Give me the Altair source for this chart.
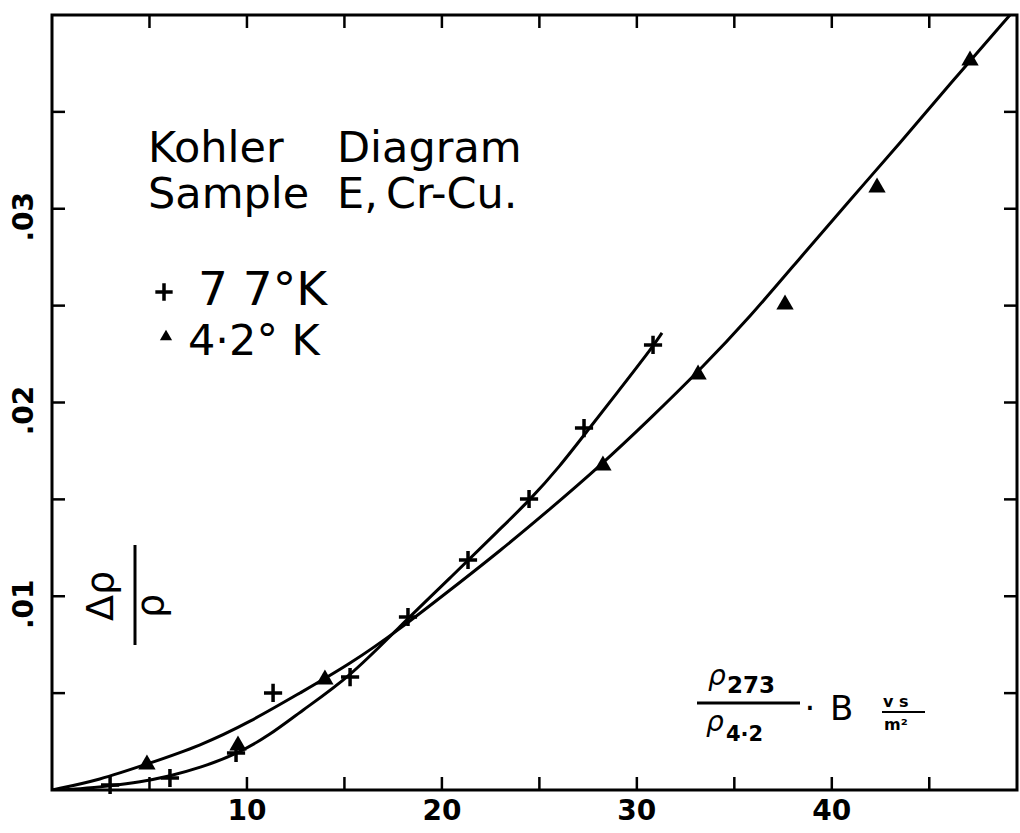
import altair as alt
import pandas as pd

# ---------------- data ----------------
# measured points, 77 K (plus markers)
x_77_pts = [2.98, 6.05, 9.44, 11.34, 15.29, 18.26, 21.34, 24.47, 27.29, 30.83]
y_77_pts = [0.00026, 0.00062, 0.00191, 0.00501, 0.00583, 0.00893, 0.01187, 0.01502, 0.01868, 0.02297]
# measured points, 4.2 K (triangles)
x_42_pts = [4.87, 9.54, 14.00, 28.26, 33.14, 37.60, 42.32, 47.09]
y_42_pts = [0.00145, 0.00243, 0.00583, 0.01688, 0.02157, 0.02519, 0.03123, 0.03778]
# hand-drawn curve, 77 K
x_77_curve = [0, 1.44, 2.98, 4.51, 6.05, 7.59, 9.49, 11.18, 12.72, 15.28, 17.85, 20.42, 22.98, 24.52, 26.06, 27.34, 29.14, 30.88, 31.29]
y_77_curve = [0, 0.00005, 0.00021, 0.00041, 0.00072, 0.00114, 0.00186, 0.00284, 0.00403, 0.00583, 0.00846, 0.01094, 0.01347, 0.01497, 0.01672, 0.01838, 0.02070, 0.02297, 0.02359]
# hand-drawn curve, 4.2 K
x_42_curve = [0, 2.46, 4.87, 7.59, 10.16, 12.72, 15.29, 17.85, 20.42, 22.98, 25.55, 28.11, 30.67, 33.24, 35.80, 38.37, 40.93, 43.50, 46.06, 49.14]
y_42_curve = [0, 0.00052, 0.00134, 0.00227, 0.00351, 0.00501, 0.00650, 0.00831, 0.01032, 0.01234, 0.01450, 0.01672, 0.01915, 0.02168, 0.02441, 0.02746, 0.03045, 0.03339, 0.03644, 0.04000]

x_tick_values = [5, 10, 15, 20, 25, 30, 35, 40, 45]
x_label_values = [10, 20, 30, 40]
x_label_texts = ["10", "20", "30", "40"]
y_tick_values = [0.005, 0.010, 0.015, 0.020, 0.025, 0.030, 0.035]
y_label_values = [0.01, 0.02, 0.03]
y_label_texts = [".01", ".02", ".03"]

X_MAX = 49.5
Y_MAX = 0.04
W, H = 965, 775
FONT = "DejaVu Sans"

xs = alt.Scale(domain=[0, X_MAX], nice=False, zero=False)
ys = alt.Scale(domain=[0, Y_MAX], nice=False, zero=False)

def X(field="x"):
    return alt.X(f"{field}:Q", scale=xs, axis=None)

def Y(field="y"):
    return alt.Y(f"{field}:Q", scale=ys, axis=None)

one = pd.DataFrame({"t": [""]})

# ---------------- curves ----------------
c77 = alt.Chart(pd.DataFrame({"x": x_77_curve, "y": y_77_curve})).mark_line(
    color="black", strokeWidth=3, interpolate="basis", clip=True
).encode(x=X(), y=Y())

c42 = alt.Chart(pd.DataFrame({"x": x_42_curve, "y": y_42_curve})).mark_line(
    color="black", strokeWidth=3, interpolate="basis", clip=True
).encode(x=X(), y=Y())

plus_shape = "M-1,0H1M0,-1V1"
p77 = alt.Chart(pd.DataFrame({"x": x_77_pts, "y": y_77_pts})).mark_point(
    shape=plus_shape, size=330, stroke="black", strokeWidth=3.5, filled=False, opacity=1
).encode(x=X(), y=Y())

p42 = alt.Chart(pd.DataFrame({"x": x_42_pts, "y": y_42_pts})).mark_point(
    shape="triangle-up", size=300, color="black", filled=True, opacity=1
).encode(x=X(), y=Y())

# ---------------- inward ticks ----------------
TL = 13
xt = pd.DataFrame({"v": x_tick_values})
yt = pd.DataFrame({"v": y_tick_values})
tick_bottom = alt.Chart(xt).mark_rule(color="black", strokeWidth=2.5).encode(
    x=X("v"), y=alt.value(H), y2=alt.value(H - TL))
tick_top = alt.Chart(xt).mark_rule(color="black", strokeWidth=2.5).encode(
    x=X("v"), y=alt.value(0), y2=alt.value(TL))
tick_left = alt.Chart(yt).mark_rule(color="black", strokeWidth=2.5).encode(
    y=Y("v"), x=alt.value(0), x2=alt.value(TL))
tick_right = alt.Chart(yt).mark_rule(color="black", strokeWidth=2.5).encode(
    y=Y("v"), x=alt.value(W), x2=alt.value(W - TL))

xl = alt.Chart(pd.DataFrame({"v": x_label_values, "t": x_label_texts})).mark_text(
    font=FONT, fontSize=28, fontWeight="bold", color="black", align="center", baseline="middle"
).encode(x=X("v"), y=alt.value(H + 22), text="t:N")

yl = alt.Chart(pd.DataFrame({"v": y_label_values, "t": y_label_texts})).mark_text(
    font=FONT, fontSize=28, fontWeight="bold", color="black", align="center", baseline="middle",
    angle=270, dx=-8
).encode(y=Y("v"), x=alt.value(-27), text="t:N")

# ---------------- annotations ----------------
def txt(s, px, py, size, weight="normal", align="left", baseline="alphabetic", angle=0, style="normal"):
    return alt.Chart(pd.DataFrame({"t": [s]})).mark_text(
        font=FONT, fontSize=size, fontWeight=weight, color="black", align=align,
        baseline=baseline, angle=angle, fontStyle=style
    ).encode(x=alt.value(px), y=alt.value(py), text="t:N")

def hline(x1, x2, y, w=3):
    return alt.Chart(one).mark_rule(color="black", strokeWidth=w).encode(
        x=alt.value(x1), x2=alt.value(x2), y=alt.value(y))

def vline(x, y1, y2, w=3):
    return alt.Chart(one).mark_rule(color="black", strokeWidth=w).encode(
        x=alt.value(x), y=alt.value(y1), y2=alt.value(y2))

ann = [
    txt("Kohler", 96, 147, 43),
    txt("Diagram", 285, 147, 43),
    txt("Sample", 96, 193, 43),
    txt("E,", 285, 193, 43),
    txt("Cr-Cu.", 334, 193, 43),
    txt("7 7°K", 146, 290, 47),
    txt("4·2° K", 136, 340, 43),
    # x-axis quantity label
    txt("ρ", 656, 670, 28, style="italic"),
    txt("273", 675, 678, 23, weight="bold"),
    hline(645, 748, 688),
    txt("ρ", 654, 716, 28, style="italic"),
    txt("4·2", 674, 726, 21, weight="bold"),
    txt("·", 758, 705, 34, align="center"),
    txt("B", 778, 705, 34),
    txt("v s", 831, 692, 16, weight="bold"),
    hline(830, 873, 697, 2),
    txt("m²", 832, 715, 16, weight="bold"),
    # y quantity label  Δρ / ρ
    txt("Δρ", 50, 581, 38, align="center", baseline="middle", angle=270),
    vline(83, 530, 630),
    txt("ρ", 100, 591, 38, align="center", baseline="middle", angle=270),
]

leg_plus = alt.Chart(one).mark_point(
    shape=plus_shape, size=300, stroke="black", strokeWidth=3.5, filled=False, opacity=1
).encode(x=alt.value(112), y=alt.value(277))
leg_tri = alt.Chart(one).mark_point(
    shape="triangle-up", size=150, color="black", filled=True, opacity=1
).encode(x=alt.value(114), y=alt.value(320))

chart = alt.layer(
    c77, c42, p77, p42,
    tick_bottom, tick_top, tick_left, tick_right,
    xl, yl, *ann, leg_plus, leg_tri
).properties(
    width=W, height=H,
    padding={"left": 52, "top": 15, "right": 3, "bottom": 43},
    autosize=alt.AutoSizeParams(type="none"),
    background="white",
).configure_view(stroke="black", strokeWidth=3)

chart.save("out.html", embed_options={"renderer": "svg", "actions": False})
